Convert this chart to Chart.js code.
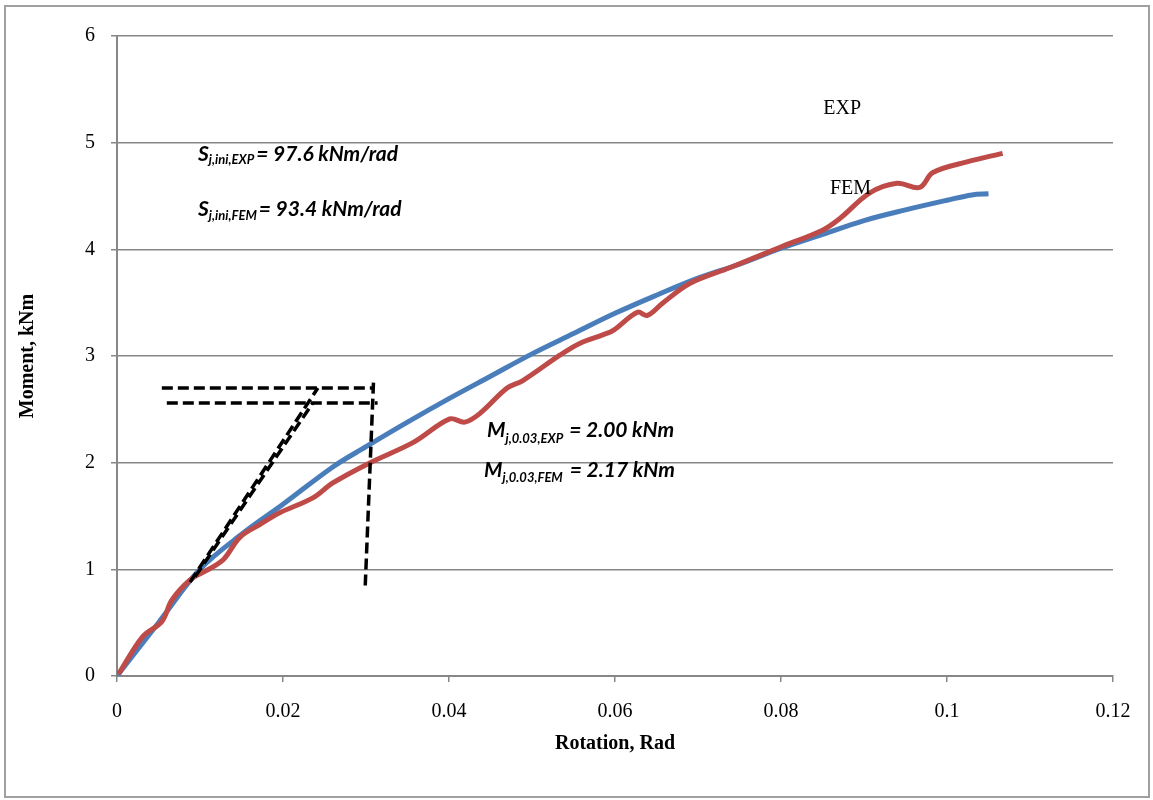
<!DOCTYPE html>
<html>
<head>
<meta charset="utf-8">
<script src="https://cdn.jsdelivr.net/npm/chart.js@4"></script>
<style>
  html, body { margin: 0; padding: 0; background: #fff; }
  #wrap { width: 1153px; height: 800px; }
</style>
</head>
<body>
<div id="wrap"><canvas id="myChart" width="1153" height="800"></canvas></div>
<script>
// FEM curve (smooth, blue)
const rotationFEM = [0, 0.005, 0.01, 0.0152, 0.02, 0.026, 0.03, 0.035, 0.04, 0.045, 0.05, 0.055, 0.06, 0.065, 0.07, 0.075, 0.08, 0.085, 0.09, 0.095, 0.1, 0.103, 0.105]
const momentFEM = [0, 0.5, 1.0, 1.34, 1.61, 1.96, 2.15, 2.38, 2.6, 2.81, 3.02, 3.21, 3.4, 3.57, 3.73, 3.86, 4.01, 4.14, 4.27, 4.37, 4.46, 4.51, 4.52]

// EXP curve (test, red)
const rotationEXP = [0.0002, 0.0031, 0.0054, 0.0066, 0.0088, 0.0108, 0.0128, 0.0148, 0.0172, 0.0196, 0.0236, 0.026, 0.0305, 0.0357, 0.0401, 0.0419, 0.0437, 0.047, 0.0489, 0.0534, 0.0558, 0.0586, 0.0598, 0.0627, 0.0639, 0.0658, 0.069, 0.0739, 0.0799, 0.085, 0.0871, 0.0907, 0.094, 0.0967, 0.0983, 0.1024, 0.1067]
const momentEXP = [0.02, 0.37, 0.51, 0.71, 0.9, 0.99, 1.09, 1.3, 1.42, 1.53, 1.67, 1.81, 2.0, 2.19, 2.41, 2.38, 2.46, 2.7, 2.77, 3.01, 3.12, 3.2, 3.24, 3.41, 3.38, 3.5, 3.68, 3.83, 4.02, 4.18, 4.29, 4.53, 4.62, 4.58, 4.72, 4.82, 4.9]

// dashed construction lines: [start, end] for each
const guideRotation = [
  [0.0054, 0.0310],
  [0.0060, 0.0314],
  [0.0309, 0.0299],
  [0.0088, 0.0242],
  [0.0094, 0.0236]
]
const guideMoment = [
  [2.70, 2.70],
  [2.56, 2.56],
  [2.75, 0.83],
  [0.88, 2.70],
  [0.93, 2.56]
]

const xTicks = [0, 0.02, 0.04, 0.06, 0.08, 0.1, 0.12]
const yTicks = [0, 1, 2, 3, 4, 5, 6]

// text notes, anchored in data units
const notes = [
  { x: 0.00976, y: 4.83, main: "S", sub: "j,ini,EXP", rest: "= 97.6 kNm/rad", drop: 3, gap: 2 },
  { x: 0.00976, y: 4.31, main: "S", sub: "j,ini,FEM", rest: "= 93.4 kNm/rad", drop: 4, gap: 2 },
  { x: 0.04458, y: 2.24, main: "M", sub: "j,0.03,EXP", rest: "= 2.00 kNm", drop: 6, gap: 6 },
  { x: 0.04422, y: 1.866, main: "M", sub: "j,0.03,FEM", rest: "= 2.17 kNm", drop: 5, gap: 7 }
]
const seriesLabels = [
  { x: 0.0851, y: 5.27, text: "EXP" },
  { x: 0.0859, y: 4.52, text: "FEM" }
]

const grey = "#878787"

function pts(xs, ys) {
  return xs.map((x, i) => ({ x: x, y: ys[i] }))
}

const guideSets = guideRotation.map((xs, i) => ({
  label: "guide" + i,
  data: pts(xs, guideMoment[i]),
  borderColor: "#000",
  borderWidth: 3.5,
  borderDash: [11, 5],
  borderCapStyle: "butt",
  pointRadius: 0,
  tension: 0,
  fill: false,
}))

const frame = {
  id: "frame",
  beforeDraw(chart) {
    const c = chart.ctx
    c.save()
    c.fillStyle = "#fff"
    c.fillRect(0, 0, chart.width, chart.height)
    c.strokeStyle = "#a0a0a0"
    c.lineWidth = 2
    c.strokeRect(5, 6, 1144, 791)
    c.restore()
  },
  afterDatasetsDraw(chart) {
    const c = chart.ctx
    const xs = chart.scales.x
    const ys = chart.scales.y
    c.save()
    c.fillStyle = "#000"
    c.textBaseline = "alphabetic"
    c.textAlign = "left"
    notes.forEach(n => {
      let px = xs.getPixelForValue(n.x)
      const py = ys.getPixelForValue(n.y)
      c.font = "italic bold 21px Lato"
      c.fillText(n.main, px, py)
      px += c.measureText(n.main).width
      c.font = "italic bold 13px Lato"
      c.fillText(n.sub, px, py + n.drop)
      px += c.measureText(n.sub).width + n.gap
      c.font = "italic bold 21px Lato"
      c.fillText(n.rest, px, py)
    })
    c.font = "20px 'Liberation Serif'"
    seriesLabels.forEach(l => {
      c.fillText(l.text, xs.getPixelForValue(l.x), ys.getPixelForValue(l.y))
    })
    c.restore()
  }
}

const ctx = document.getElementById("myChart").getContext("2d")
let myChart = new Chart(ctx, {
  type: "line",
  data: {
    datasets: [
      ...guideSets,
      {
        label: "EXP",
        data: pts(rotationEXP, momentEXP),
        borderColor: "#be4b48",
        borderWidth: 5,
        pointRadius: 0,
        tension: 0.35,
        fill: false,
      },
      {
        label: "FEM",
        data: pts(rotationFEM, momentFEM),
        borderColor: "#4a7ebb",
        borderWidth: 5,
        pointRadius: 0,
        tension: 0.35,
        fill: false,
      },
    ],
  },
  options: {
    responsive: false,
    animation: false,
    layout: { padding: { top: 36, right: 40, bottom: 0, left: 0 } },
    plugins: {
      legend: { display: false },
      tooltip: { enabled: false },
    },
    scales: {
      x: {
        type: "linear",
        min: 0,
        max: 0.12,
        afterBuildTicks: s => { s.ticks = xTicks.map(v => ({ value: v })) },
        afterFit: s => { s.height = 124 },
        ticks: {
          color: "#000",
          padding: 18,
          maxRotation: 0,
          font: { family: "'Liberation Serif'", size: 20 },
          callback: v => String(+v.toFixed(2)),
        },
        grid: { drawOnChartArea: false, drawTicks: true, tickLength: 6, color: grey, lineWidth: 1.5 },
        border: { color: grey, width: 2 },
        title: {
          display: true,
          text: "Rotation, Rad",
          color: "#000",
          font: { family: "'Liberation Serif'", size: 20, weight: "bold" },
          padding: { top: 4, bottom: 44 },
        },
      },
      y: {
        type: "linear",
        min: 0,
        max: 6,
        afterBuildTicks: s => { s.ticks = yTicks.map(v => ({ value: v })) },
        afterFit: s => { s.width = 117 },
        ticks: {
          color: "#000",
          padding: 16,
          font: { family: "'Liberation Serif'", size: 20 },
        },
        grid: { color: grey, lineWidth: 1.5, tickLength: 6 },
        border: { color: grey, width: 2 },
        title: {
          display: true,
          text: "Moment, kNm",
          color: "#000",
          font: { family: "'Liberation Serif'", size: 20, weight: "bold" },
          padding: { top: 16, bottom: 4 },
        },
      },
    },
  },
  plugins: [frame],
})
</script>
</body>
</html>
